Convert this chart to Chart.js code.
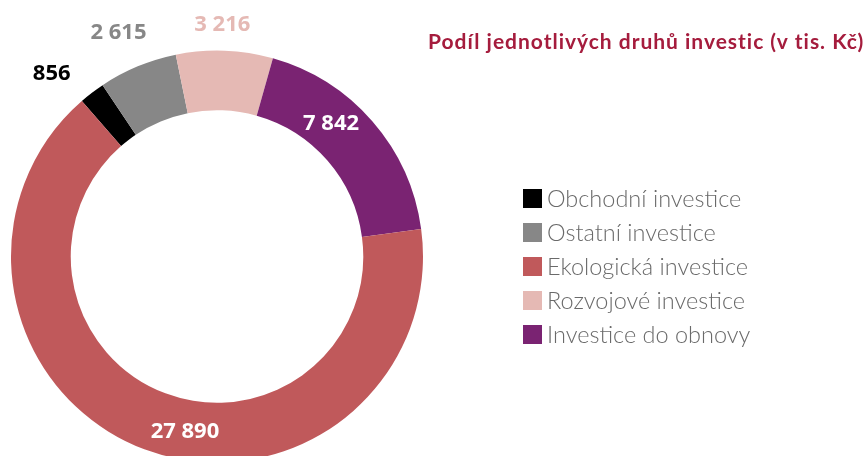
<!DOCTYPE html>
<html>
<head>
<meta charset="utf-8">
<script src="https://cdn.jsdelivr.net/npm/chart.js@4/dist/chart.umd.min.js"></script>
<style>
  html, body { margin: 0; padding: 0; background: #fff; overflow: hidden; }
  #wrap { width: 868px; height: 456px; overflow: hidden; }
</style>
</head>
<body>
<div id="wrap">
  <canvas id="chart" width="868" height="470"></canvas>
</div>
<script>
// slices in clockwise order, starting at the black one
var categories = ['Obchodní investice', 'Ostatní investice', 'Rozvojové investice', 'Investice do obnovy', 'Ekologická investice'];
var values = [856, 2615, 3216, 7842, 27890];
var valueLabels = ['856', '2 615', '3 216', '7 842', '27 890'];
// order the legend shows them in
var legendOrder = ['Obchodní investice', 'Ostatní investice', 'Ekologická investice', 'Rozvojové investice', 'Investice do obnovy'];
var titleText = 'Podíl jednotlivých druhů investic (v tis. Kč)';

var colors = ['#000000', '#878787', '#e5b9b4', '#7a2372', '#c0595b'];
var labelColors = ['#000000', '#878787', '#e5b9b4', '#ffffff', '#ffffff'];
// label placement: radius offset from outer edge (px), angle shift (deg)
var labelPlace = [[40.7, -4.7], [38.7, -1.1], [26, -0.8], [-30.8, -8.4], [-27.6, -10.3]];

// value labels, title and legend drawn on the canvas
var extras = {
  id: 'extras',
  afterDatasetsDraw: function(chart) {
    var ctx = chart.ctx;
    var meta = chart.getDatasetMeta(0);
    ctx.save();
    ctx.font = 'bold 22px "Open Sans"';
    ctx.textAlign = 'center';
    ctx.textBaseline = 'middle';
    meta.data.forEach(function(arc, i) {
      var p = arc.getProps(['x', 'y', 'startAngle', 'endAngle', 'outerRadius']);
      var mid = (p.startAngle + p.endAngle) / 2 + labelPlace[i][1] * Math.PI / 180;
      var r = p.outerRadius + labelPlace[i][0];
      ctx.fillStyle = labelColors[i];
      ctx.fillText(valueLabels[i], p.x + r * Math.cos(mid), p.y + r * Math.sin(mid));
    });

    // title, stretched to the width it has in the original
    ctx.font = 'bold 21px Lato';
    ctx.textAlign = 'left';
    ctx.textBaseline = 'alphabetic';
    ctx.fillStyle = '#a51c3d';
    var w = ctx.measureText(titleText).width;
    ctx.letterSpacing = ((437 - w) / titleText.length) + 'px';
    ctx.fillText(titleText, 428, 49);
    ctx.letterSpacing = '0px';

    // legend
    ctx.font = '300 23.5px Lato';
    legendOrder.forEach(function(name, k) {
      var i = categories.indexOf(name);
      var y = 189 + k * 34;
      ctx.fillStyle = colors[i];
      ctx.fillRect(523, y, 19, 19);
      ctx.fillStyle = '#6a6a6a';
      ctx.fillText(name, 547, y + 18);
    });
    ctx.restore();
  }
};

var chart = new Chart(document.getElementById('chart'), {
  type: 'doughnut',
  data: {
    labels: categories,
    datasets: [{
      data: values,
      backgroundColor: colors,
      borderWidth: 0
    }]
  },
  options: {
    responsive: false,
    animation: false,
    rotation: -41,
    cutout: '71%',
    layout: { padding: { top: 50.5, left: 11, right: 445, bottom: 7.5 } },
    plugins: {
      legend: { display: false },
      tooltip: { enabled: false }
    }
  },
  plugins: [extras]
});
</script>
</body>
</html>
